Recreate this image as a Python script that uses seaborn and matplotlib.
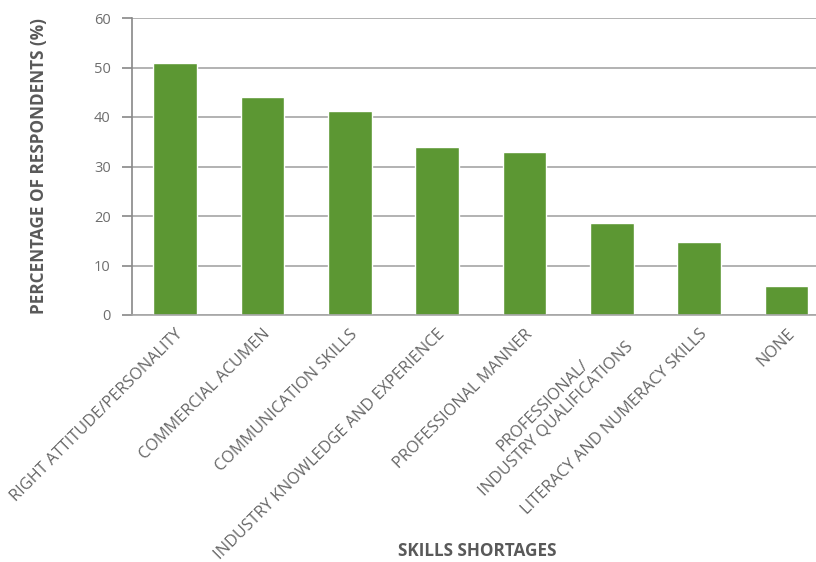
import matplotlib
matplotlib.use("Agg")
import matplotlib.pyplot as plt
import seaborn as sns
import pandas as pd

categories = [
    "RIGHT ATTITUDE/PERSONALITY",
    "COMMERCIAL ACUMEN",
    "COMMUNICATION SKILLS",
    "INDUSTRY KNOWLEDGE AND EXPERIENCE",
    "PROFESSIONAL MANNER",
    "PROFESSIONAL/\nINDUSTRY QUALIFICATIONS",
    "LITERACY AND NUMERACY SKILLS",
    "NONE",
]
values = [51, 44, 41.2, 34, 33, 18.6, 14.7, 5.9]
yticks = [0, 10, 20, 30, 40, 50, 60]

df = pd.DataFrame({"skill": categories, "pct": values})

sns.set_style("white")
plt.rcParams["font.family"] = ["Open Sans", "DejaVu Sans"]

fig = plt.figure(figsize=(8.16, 5.62), dpi=100)
ax = fig.add_axes([131.5 / 816, 1 - 315 / 562, (830 - 131.5) / 816, (315 - 18) / 562])

sns.barplot(data=df, x="skill", y="pct", color="#5c9733", saturation=1, width=0.5, ax=ax)

ax.set_ylim(0, 60)
ax.set_yticks(yticks)
ax.set_yticklabels([str(t) for t in yticks], color="#6e6e6e", fontsize=10.5)
ax.yaxis.grid(True, color="#a6a6a6", linewidth=1.2)
ax.set_axisbelow(True)
for s in ["top", "right"]:
    ax.spines[s].set_visible(False)
ax.spines["left"].set_color("#888888")
ax.spines["bottom"].set_color("#a6a6a6")
ax.spines["left"].set_linewidth(1.2)
ax.spines["bottom"].set_linewidth(1.2)
ax.tick_params(axis="y", length=7, color="#888888", width=1.2, pad=8, left=True)
ax.tick_params(axis="x", length=0, pad=8)

ax.set_xticks(range(len(categories)))
ax.set_xticklabels(categories, rotation=45, ha="right", rotation_mode="anchor",
                   color="#666666", fontsize=11.7, multialignment="center")

ax.set_xlabel("")
ax.set_ylabel("PERCENTAGE OF RESPONDENTS (%)", fontsize=12.3, fontweight="bold",
              color="#595959", labelpad=33)
fig.text(477 / 816, 1 - 551 / 562, "SKILLS SHORTAGES", ha="center", va="center",
         fontsize=12.3, fontweight="bold", color="#595959")

fig.savefig("out.png", dpi=100)
